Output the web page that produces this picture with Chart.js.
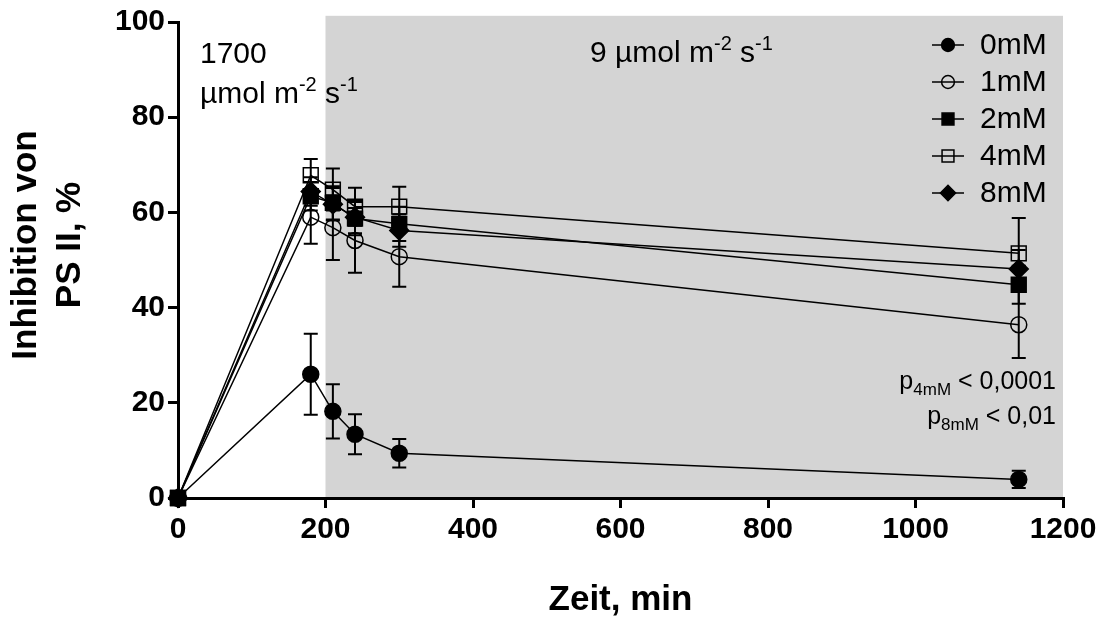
<!DOCTYPE html>
<html>
<head>
<meta charset="utf-8">
<script src="https://cdn.jsdelivr.net/npm/chart.js@4.4.1/dist/chart.umd.min.js"></script>
<style>
  body { margin: 0; background: #fff; }
  canvas { display: block; }
</style>
</head>
<body>
<canvas id="inhChart" width="1104" height="623"></canvas>
<script>
// time points (min)
const times = [0, 180, 210, 240, 300, 1140];

// mean inhibition of PS II, % and error (+/-) per concentration
const inh0 = [0, 26, 18.2, 13.4, 9.4, 3.9];
const err0 = [0, 8.5, 5.7, 4.2, 3, 1.8];
const inh1 = [0, 59, 56.8, 54.1, 50.7, 36.4];
const err1 = [0, 5.6, 6.8, 6.8, 6.3, 7];
const inh2 = [0, 63.4, 62, 58.7, 57.6, 44.8];
const err2 = [0, 3, 3.5, 3.5, 3.6, 4];
const inh4 = [0, 67.8, 64.8, 61.2, 61.2, 51.4];
const err4 = [0, 3.4, 4.4, 4, 4.2, 7.4];
const inh8 = [0, 64.4, 61.7, 59, 56.2, 48.1];
const err8 = [0, 3, 3.4, 3.4, 3.4, 4];

const seriesNames = ["0mM", "1mM", "2mM", "4mM", "8mM"];

const xTicks = [0, 200, 400, 600, 800, 1000, 1200];
const yTicks = [0, 20, 40, 60, 80, 100];

const FONT = "'Liberation Sans', Arial, sans-serif";

function pts(vals) {
  return times.map((t, i) => ({ x: t, y: vals[i] }));
}

function series(label, vals, errs, style, filled, radius) {
  return {
    label: label,
    data: pts(vals),
    errors: errs,
    borderColor: "#000",
    borderWidth: 1.5,
    pointStyle: style,
    pointRadius: radius,
    pointHoverRadius: radius,
    pointBackgroundColor: filled ? "#000" : "rgba(0,0,0,0)",
    pointBorderColor: "#000",
    pointBorderWidth: 1.5,
    tension: 0,
    clip: false,
    fill: false
  };
}

// grey box for the low light period (200 - 1200 min)
const shadePlugin = {
  id: "shade",
  beforeDraw(chart) {
    const { ctx, scales } = chart;
    const x0 = scales.x.getPixelForValue(200);
    const x1 = scales.x.getPixelForValue(1200);
    const y0 = scales.y.getPixelForValue(101.3);
    const y1 = scales.y.getPixelForValue(0);
    ctx.save();
    ctx.fillStyle = "#d4d4d4";
    ctx.fillRect(x0, y0, x1 - x0, y1 - y0);
    ctx.restore();
  }
};

// vertical error bars with caps
const errorBarPlugin = {
  id: "errbars",
  beforeDatasetsDraw(chart) {
    const { ctx, scales } = chart;
    ctx.save();
    ctx.strokeStyle = "#000";
    ctx.lineWidth = 2;
    chart.data.datasets.forEach(ds => {
      ds.data.forEach((p, i) => {
        const e = ds.errors[i];
        if (!e) return;
        const x = scales.x.getPixelForValue(p.x);
        const yt = scales.y.getPixelForValue(p.y + e);
        const yb = scales.y.getPixelForValue(p.y - e);
        ctx.beginPath();
        ctx.moveTo(x, yt); ctx.lineTo(x, yb);
        ctx.moveTo(x - 7, yt); ctx.lineTo(x + 7, yt);
        ctx.moveTo(x - 7, yb); ctx.lineTo(x + 7, yb);
        ctx.stroke();
      });
    });
    ctx.restore();
  }
};

// draw text runs with super / subscripts
function drawRuns(ctx, runs, x, y, size, align) {
  const w = runs.reduce((s, r) => {
    ctx.font = (r.s ? Math.round(size * 0.66) : size) + "px " + FONT;
    return s + ctx.measureText(r.t).width;
  }, 0);
  let cx = align === "right" ? x - w : x;
  runs.forEach(r => {
    const sz = r.s ? Math.round(size * 0.66) : size;
    ctx.font = sz + "px " + FONT;
    let dy = 0;
    if (r.s === "sup") dy = -size * 0.4;
    if (r.s === "sub") dy = size * 0.22;
    ctx.fillText(r.t, cx, y + dy);
    cx += ctx.measureText(r.t).width;
  });
}

const textPlugin = {
  id: "texts",
  afterDraw(chart) {
    const { ctx, chartArea } = chart;
    ctx.save();
    ctx.fillStyle = "#000";
    ctx.textBaseline = "alphabetic";
    ctx.textAlign = "left";

    // light intensities
    drawRuns(ctx, [{ t: "1700" }], 200, 63, 30);
    drawRuns(ctx, [{ t: "µmol m" }, { t: "-2", s: "sup" }, { t: " s" }, { t: "-1", s: "sup" }], 200, 103, 30);
    drawRuns(ctx, [{ t: "9 µmol m" }, { t: "-2", s: "sup" }, { t: " s" }, { t: "-1", s: "sup" }], 590, 62, 30);

    // p values
    drawRuns(ctx, [{ t: "p" }, { t: "4mM", s: "sub" }, { t: " < 0,0001" }], 1056, 389, 25, "right");
    drawRuns(ctx, [{ t: "p" }, { t: "8mM", s: "sub" }, { t: " < 0,01" }], 1056, 424, 25, "right");

    // legend
    chart.data.datasets.forEach((ds, i) => {
      const y = 45 + i * 37;
      ctx.strokeStyle = "#000";
      ctx.lineWidth = 1.5;
      ctx.beginPath();
      ctx.moveTo(932, y); ctx.lineTo(964, y);
      ctx.stroke();
      ctx.fillStyle = ds.pointBackgroundColor;
      Chart.helpers.drawPoint(ctx, {
        pointStyle: ds.pointStyle,
        radius: ds.pointRadius * 0.8,
        borderWidth: 1.5,
        rotation: 0
      }, 948, y);
      ctx.fillStyle = "#000";
      ctx.font = "30px " + FONT;
      ctx.textBaseline = "middle";
      ctx.fillText(ds.label, 980, y + 1);
      ctx.textBaseline = "alphabetic";
    });

    // axis titles
    ctx.font = "bold 35px " + FONT;
    ctx.textAlign = "center";
    ctx.textBaseline = "middle";
    ctx.fillText("Zeit, min", (chartArea.left + chartArea.right) / 2, 600);
    ctx.translate(0, 245);
    ctx.rotate(-Math.PI / 2);
    ctx.fillText("Inhibition von", 0, 26);
    ctx.fillText("PS II, %", 0, 70);
    ctx.restore();
  }
};

const axisLook = {
  grid: { display: true, drawOnChartArea: false, drawTicks: true, tickLength: 10, tickWidth: 3, tickColor: "#000", lineWidth: 3, color: "#000" },
  border: { display: true, width: 3, color: "#000" }
};

new Chart(document.getElementById("inhChart"), {
  type: "line",
  data: {
    datasets: [
      series(seriesNames[0], inh0, err0, "circle", true, 8),
      series(seriesNames[1], inh1, err1, "circle", false, 8),
      series(seriesNames[2], inh2, err2, "rect", true, 10.5),
      series(seriesNames[3], inh4, err4, "rect", false, 10.5),
      series(seriesNames[4], inh8, err8, "rectRot", true, 9.5)
    ]
  },
  options: {
    responsive: false,
    animation: false,
    devicePixelRatio: 1,
    layout: { padding: { left: 0, top: 22, right: 41, bottom: 0 } },
    plugins: { legend: { display: false }, tooltip: { enabled: false } },
    scales: {
      x: {
        type: "linear",
        min: 0,
        max: 1200,
        afterBuildTicks: s => { s.ticks = xTicks.map(v => ({ value: v })); },
        afterFit: s => { s.height = 125; },
        ticks: { color: "#000", padding: 4, font: { family: FONT, size: 30, weight: "bold" }, callback: v => String(v) },
        ...axisLook
      },
      y: {
        min: 0,
        max: 100,
        afterBuildTicks: s => { s.ticks = yTicks.map(v => ({ value: v })); },
        afterFit: s => { s.width = 178; },
        ticks: { color: "#000", padding: 3, font: { family: FONT, size: 30, weight: "bold" }, callback: v => String(v) },
        ...axisLook
      }
    }
  },
  plugins: [shadePlugin, errorBarPlugin, textPlugin]
});
</script>
</body>
</html>
